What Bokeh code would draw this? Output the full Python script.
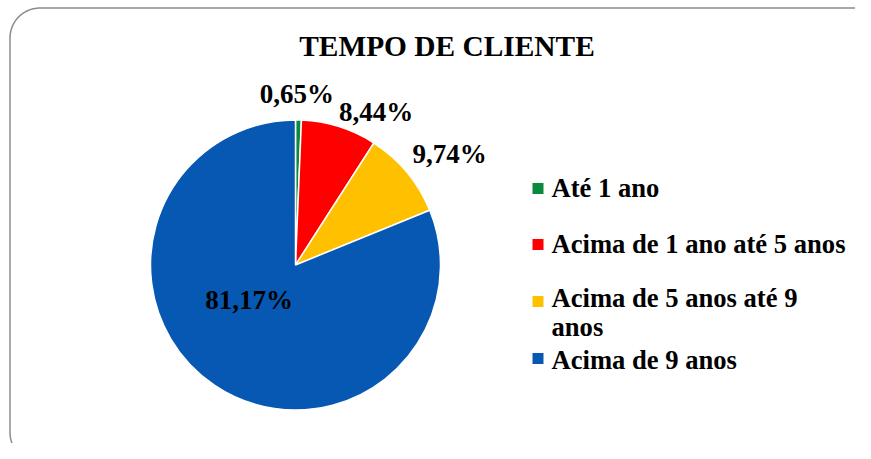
import numpy as np
from bokeh.plotting import figure
from bokeh.models import Range1d, ColumnDataSource
from bokeh.core.properties import value
from bokeh.embed import file_html
from bokeh.resources import INLINE

# ---- data ----
categories = ["Até 1 ano", "Acima de 1 ano até 5 anos", "Acima de 5 anos até 9 anos", "Acima de 9 anos"]
legend_text = ["Até 1 ano", "Acima de 1 ano até 5 anos", "Acima de 5 anos até 9\nanos", "Acima de 9 anos"]
percents = [0.65, 8.44, 9.74, 81.17]
colors = ["#0A8A3E", "#FF0000", "#FFC000", "#0658B3"]
title = "TEMPO DE CLIENTE"

# ---- layout (pixel coords of the image; y flipped) ----
PW, PH = 855, 443
def Y(yi):
    return PH - yi

cx, cy, R = 295.0, Y(264.5), 145.0
# label placement: angle offset (deg) from slice mid-angle, radius factor
lab_off = [0.7, -10.3, -4.0, -19.0]
lab_rf = [1.18, 1.19, 1.31, 0.40]

fracs = np.array(percents) / np.sum(percents)
cum = np.concatenate([[0], np.cumsum(fracs)])
start = np.pi / 2 - cum[:-1] * 2 * np.pi
end = np.pi / 2 - cum[1:] * 2 * np.pi
mid = (start + end) / 2

p = figure(width=PW, height=PH, x_range=Range1d(0, PW), y_range=Range1d(0, PH),
           output_backend="svg", toolbar_location=None, min_border=0,
           background_fill_color="white", border_fill_color="white")
p.axis.visible = False
p.grid.visible = False
p.outline_line_color = None

# rounded frame
def rounded_rect(x0, ytop, x1, ybot, r, n=30):
    xs, ys = [], []
    corners = [(x1 - r, ytop - r, 0, 90), (x0 + r, ytop - r, 90, 180),
               (x0 + r, ybot + r, 180, 270), (x1 - r, ybot + r, 270, 360)]
    for (ccx, ccy, a0, a1) in corners:
        t = np.radians(np.linspace(a0, a1, n))
        xs += list(ccx + r * np.cos(t))
        ys += list(ccy + r * np.sin(t))
    xs.append(xs[0]); ys.append(ys[0])
    return xs, ys

fx, fy = rounded_rect(9.5, Y(7.5), 895, Y(462), 30)
p.line(fx, fy, line_color="#8c8c8c", line_width=1.5)

src = ColumnDataSource(dict(start=start, end=end, color=colors))
p.wedge(x=cx, y=cy, radius=R, start_angle="start", end_angle="end", direction="clock",
        fill_color="color", line_color="white", line_width=1.5, source=src)

# data labels
ang = mid + np.radians(lab_off)
lx = cx + np.array(lab_rf) * R * np.cos(ang)
ly = cy + np.array(lab_rf) * R * np.sin(ang)
labels = [("%.2f%%" % v).replace(".", ",") for v in percents]
p.text(x=lx, y=ly, text=labels, text_font=value("Liberation Serif"), text_font_style="bold",
       text_font_size="27px", text_color="black", text_align="center", text_baseline="middle")

# title
p.text(x=[446.5], y=[Y(45)], text=[title], text_font=value("Liberation Serif"),
       text_font_style="bold", text_font_size="29.4px", text_color="black",
       text_align="center", text_baseline="alphabetic")

# legend
row_base = [197, 253, 310, 367]
text_shift = [-10, -10, 2, -8]
ly_sq = [Y(b - 9) for b in row_base]
p.rect(x=[537.5] * 4, y=ly_sq, width=11, height=11, fill_color=colors, line_color=None)
p.text(x=[551] * 4, y=[Y(b + s) for b, s in zip(row_base, text_shift)], text=legend_text,
       text_font=value("Liberation Serif"),
       text_font_style="bold", text_font_size="26.6px", text_color="black",
       text_align="left", text_baseline="alphabetic", text_line_height=0.95)

open("out.html", "w").write(file_html(p, INLINE))
